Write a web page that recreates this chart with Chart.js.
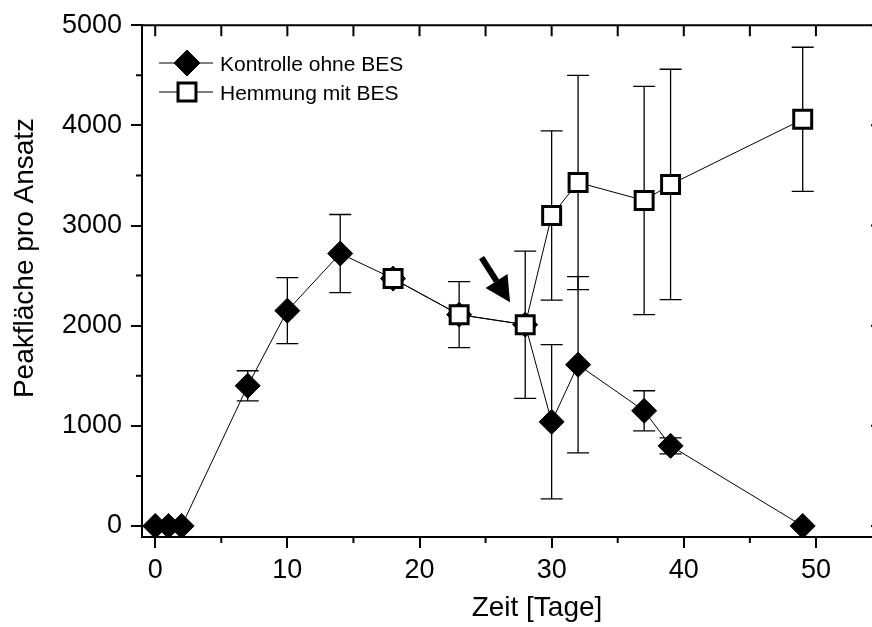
<!DOCTYPE html>
<html>
<head>
<meta charset="utf-8">
<script src="https://cdn.jsdelivr.net/npm/chart.js@4.4.1/dist/chart.umd.min.js"></script>
<style>
  html, body { margin: 0; padding: 0; overflow: hidden; background: #fff; }
  #wrap { width: 890px; height: 627px; }
</style>
</head>
<body>
<div id="wrap"><canvas id="chart" width="890" height="627"></canvas></div>
<script>
// Kontrolle ohne BES
const DAYS_K = [0, 1, 2, 7, 10, 14, 18, 23, 28, 30, 32, 37, 39, 49];
const KONTROLLE = [0, 0, 0, 1400, 2150, 2720, 2470, 2110, 2010, 1040, 1610, 1150, 800, 0];
const KONTROLLE_ERR = [0, 0, 0, 150, 330, 390, 0, 0, 0, 770, 880, 200, 80, 0];

// Hemmung mit BES
const DAYS_H = [18, 23, 28, 30, 32, 37, 39, 49];
const HEMMUNG = [2470, 2110, 2010, 3100, 3430, 3250, 3410, 4060];
const HEMMUNG_ERR = [0, 330, 735, 845, 1070, 1140, 1150, 720];

const X_TICKS = [0, 10, 20, 30, 40, 50];
const X_MINOR = [5, 15, 25, 35, 45];
const Y_TICKS = [0, 1000, 2000, 3000, 4000, 5000];
const Y_MINOR = [500, 1500, 2500, 3500, 4500];

const X_TITLE = 'Zeit [Tage]';
const Y_TITLE = 'Peakfläche pro Ansatz';

// arrow pointing at day 28 (tail, head) in data units
const ARROW = [[24.7, 2680], [26.85, 2235]];

const FONT = '"Liberation Sans", Arial, sans-serif';

const toPoints = (xs, ys) => xs.map((x, i) => ({ x: x, y: ys[i] }));

// vertical error bars with caps, drawn under the markers
const errorBars = {
    id: 'errorBars',
    beforeDatasetsDraw(chart) {
        const { ctx, scales: { x, y } } = chart;
        ctx.save();
        ctx.strokeStyle = '#000';
        ctx.lineWidth = 1.3;
        chart.data.datasets.forEach(ds => {
            ds.data.forEach((p, i) => {
                const e = ds.err[i];
                if (!e) return;
                const px = x.getPixelForValue(p.x);
                const top = y.getPixelForValue(p.y + e);
                const bot = y.getPixelForValue(p.y - e);
                ctx.beginPath();
                ctx.moveTo(px, top); ctx.lineTo(px, bot);
                ctx.moveTo(px - 11, top); ctx.lineTo(px + 11, top);
                ctx.moveTo(px - 11, bot); ctx.lineTo(px + 11, bot);
                ctx.stroke();
            });
        });
        ctx.restore();
    }
};

// frame: top/right axes, minor ticks, titles, arrow and legend
const frame = {
    id: 'frame',
    afterDraw(chart) {
        const { ctx, chartArea: a, scales: { x, y } } = chart;
        ctx.save();
        ctx.strokeStyle = '#000';
        ctx.lineWidth = 2;
        ctx.beginPath();
        ctx.moveTo(a.left - 1, a.top); ctx.lineTo(a.right, a.top); ctx.lineTo(a.right, a.bottom);
        ctx.stroke();

        ctx.beginPath();
        X_TICKS.concat(X_MINOR).forEach(v => { const px = x.getPixelForValue(v); ctx.moveTo(px, a.top); ctx.lineTo(px, a.top + 11); });
        X_MINOR.forEach(v => {
            const px = x.getPixelForValue(v);
            ctx.moveTo(px, a.bottom); ctx.lineTo(px, a.bottom + 6);
        });
        Y_TICKS.forEach(v => { const py = y.getPixelForValue(v); ctx.moveTo(a.right, py); ctx.lineTo(a.right - 11, py); });
        Y_MINOR.forEach(v => {
            const py = y.getPixelForValue(v);
            ctx.moveTo(a.right, py); ctx.lineTo(a.right - 6, py);
            ctx.moveTo(a.left, py); ctx.lineTo(a.left - 6, py);
        });
        ctx.stroke();

        // axis titles
        ctx.fillStyle = '#000';
        ctx.font = '28px ' + FONT;
        ctx.textAlign = 'center';
        ctx.textBaseline = 'middle';
        ctx.fillText(X_TITLE, 537, 608);
        ctx.save();
        ctx.translate(25, 258);
        ctx.rotate(-Math.PI / 2);
        ctx.fillText(Y_TITLE, 0, 0);
        ctx.restore();

        // arrow
        const x0 = x.getPixelForValue(ARROW[0][0]), y0 = y.getPixelForValue(ARROW[0][1]);
        const x1 = x.getPixelForValue(ARROW[1][0]), y1 = y.getPixelForValue(ARROW[1][1]);
        const ang = Math.atan2(y1 - y0, x1 - x0);
        const hl = 25, hw = 13;
        const bx = x1 - hl * Math.cos(ang), by = y1 - hl * Math.sin(ang);
        ctx.lineWidth = 6;
        ctx.beginPath(); ctx.moveTo(x0, y0); ctx.lineTo(bx, by); ctx.stroke();
        ctx.beginPath();
        ctx.moveTo(x1, y1);
        ctx.lineTo(bx + hw * Math.sin(ang), by - hw * Math.cos(ang));
        ctx.lineTo(bx - hw * Math.sin(ang), by + hw * Math.cos(ang));
        ctx.closePath(); ctx.fill();

        // legend (Kontrolle first)
        const order = [1, 0];
        ctx.font = '21px ' + FONT;
        ctx.textAlign = 'left';
        ctx.textBaseline = 'alphabetic';
        order.forEach((di, row) => {
            const ds = chart.data.datasets[di];
            const ly = 63 + row * 29;
            ctx.strokeStyle = '#000';
            ctx.lineWidth = 1;
            ctx.beginPath(); ctx.moveTo(159, ly); ctx.lineTo(213, ly); ctx.stroke();
            ctx.fillStyle = ds.pointBackgroundColor;
            ctx.lineWidth = ds.pointBorderWidth;
            Chart.helpers.drawPoint(ctx, {
                pointStyle: ds.pointStyle,
                radius: ds.pointStyle === 'rect' ? 12.7 : 13,
                rotation: 0,
                borderWidth: ds.pointBorderWidth
            }, 187, ly);
            ctx.fillStyle = '#000';
            ctx.fillText(ds.label, 220, ly + 8);
        });
        ctx.restore();
    }
};

const ctx = document.getElementById('chart').getContext('2d');

new Chart(ctx, {
    type: 'scatter',
    data: {
        datasets: [
            {
                label: 'Hemmung mit BES',
                data: toPoints(DAYS_H, HEMMUNG),
                err: HEMMUNG_ERR,
                showLine: true,
                borderColor: '#000',
                borderWidth: 1,
                pointStyle: 'rect',
                pointRadius: 12.7,
                pointHoverRadius: 12.7,
                pointBackgroundColor: '#fff',
                pointBorderColor: '#000',
                pointBorderWidth: 3
            },
            {
                label: 'Kontrolle ohne BES',
                data: toPoints(DAYS_K, KONTROLLE),
                err: KONTROLLE_ERR,
                showLine: true,
                borderColor: '#000',
                borderWidth: 1,
                pointStyle: 'rectRot',
                pointRadius: 12.5,
                pointHoverRadius: 12.5,
                pointBackgroundColor: '#000',
                pointBorderColor: '#000',
                pointBorderWidth: 1
            }
        ]
    },
    options: {
        responsive: false,
        animation: false,
        layout: { autoPadding: false, padding: { top: 23, right: 8, left: 0, bottom: 0 } },
        plugins: { legend: { display: false }, tooltip: { enabled: false } },
        scales: {
            x: {
                type: 'linear',
                min: -1,
                max: 55,
                afterBuildTicks: s => { s.ticks = X_TICKS.map(v => ({ value: v })); },
                afterFit: s => { s.height = 90; },
                ticks: { font: { family: FONT, size: 27 }, color: '#000', padding: 6, maxRotation: 0, autoSkip: false },
                grid: { drawOnChartArea: false, tickLength: 11, color: '#000', lineWidth: 2 },
                border: { color: '#000', width: 2 }
            },
            y: {
                min: -110,
                max: 5000,
                afterBuildTicks: s => { s.ticks = Y_TICKS.map(v => ({ value: v })); },
                afterFit: s => { s.width = 142; },
                ticks: { font: { family: FONT, size: 27 }, color: '#000', padding: 9, autoSkip: false, callback: v => String(v) },
                grid: { drawOnChartArea: false, tickLength: 11, color: '#000', lineWidth: 2 },
                border: { color: '#000', width: 2 }
            }
        }
    },
    plugins: [errorBars, frame]
});
</script>
</body>
</html>
